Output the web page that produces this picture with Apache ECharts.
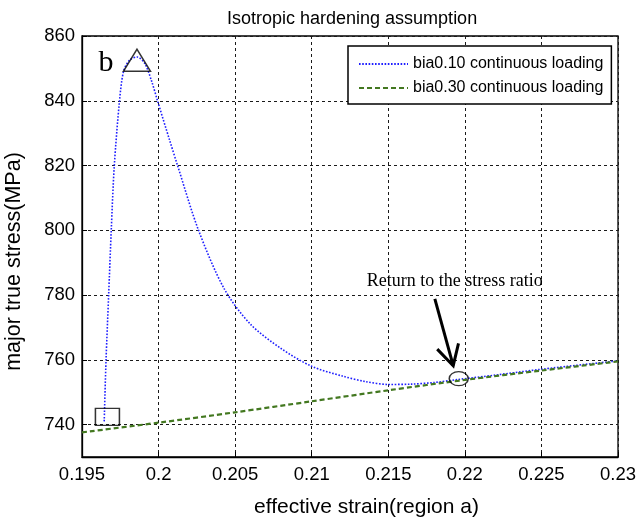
<!DOCTYPE html>
<html><head><meta charset="utf-8">
<script src="https://cdn.jsdelivr.net/npm/echarts@6/dist/echarts.min.js"></script>
<style>html,body{margin:0;padding:0;background:#fff}#c{width:639px;height:521px}</style>
</head><body><div id="c"></div>
<script>
// ticks
const xTicks = [0.195, 0.2, 0.205, 0.21, 0.215, 0.22, 0.225, 0.23];
const yTicks = [740, 760, 780, 800, 820, 840, 860];
// bia0.10 continuous loading
const b10Strain = [0.19645, 0.19657, 0.19674, 0.19691, 0.19711, 0.19745, 0.19771, 0.1981, 0.1986, 0.1991, 0.19955, 0.19993, 0.20071, 0.20124, 0.20261, 0.20428, 0.206, 0.208, 0.210, 0.212, 0.2135, 0.215, 0.2165, 0.218, 0.2195, 0.222, 0.225, 0.23];
const b10Stress = [741, 760, 780, 800, 820, 840, 849, 852.5, 853.5, 851.5, 846, 840, 828, 820, 800, 782, 771, 763.5, 758, 755, 753.3, 752.4, 752.5, 753, 753.9, 755.3, 757.1, 759.7];
// bia0.30 continuous loading
const b30Strain = [0.195, 0.2, 0.205, 0.21, 0.215, 0.22, 0.225, 0.23];
const b30Stress = [737.6, 740.6, 743.8, 747.2, 750.6, 753.8, 756.7, 759.5];
// markers: [strain, stress]
const peakMark = [0.19859, 852.5];
const startMark = [0.19666, 742.4];
const returnMark = [0.2196, 754.2];
// arrow [fromStrain, fromStress, toStrain, toStress]
const arrowPts = [0.21804, 778.8, 0.21924, 758.2];
// text annotations [strain, stress, text]
const bLabel = [0.19657, 851.7, 'b'];
const noteLabel = [0.21359, 784.4, 'Return to the stress ratio'];

const SANS = '"Liberation Sans", Arial, sans-serif';
const SERIF = '"Liberation Serif", "Times New Roman", serif';
const zip = (a, b) => a.map((v, i) => [v, b[i]]);

const chart = echarts.init(document.getElementById('c'), null, {renderer: 'canvas'});
const gridLine = {show: true, lineStyle: {color: '#1a1a1a', width: 1, type: [3, 3]}};
const option = {
  animation: false,
  backgroundColor: '#fff',
  title: {
    text: 'Isotropic hardening assumption', left: 222, top: 5,
    textStyle: {fontFamily: SANS, fontSize: 18, fontWeight: 'normal', color: '#000'}
  },
  grid: {left: 82, top: 36, right: 21, bottom: 64, containLabel: false, outerBoundsMode: 'none',
    show: true, borderColor: '#000', borderWidth: 1.3, backgroundColor: 'transparent'},
  legend: {
    orient: 'vertical', left: 348, top: 46,
    padding: [10, 8, 8, 10], itemGap: 8, itemWidth: 49, itemHeight: 14,
    borderColor: '#000', borderWidth: 1.5, backgroundColor: '#fff',
    itemStyle: {opacity: 0},
    textStyle: {fontFamily: SANS, fontSize: 16, color: '#000', padding: [0, 0, 0, 0], lineHeight: 16},
    data: ['bia0.10 continuous loading', 'bia0.30 continuous loading']
  },
  xAxis: {
    type: 'value', min: xTicks[0], max: xTicks[xTicks.length - 1], interval: 0.005,
    name: 'effective strain(region a)', nameLocation: 'middle', nameGap: 40,
    nameTextStyle: {fontFamily: SANS, fontSize: 21, color: '#000', padding: [0, 0, 0, 33]},
    axisLine: {show: true, onZero: false, lineStyle: {color: '#000', width: 1.3}},
    axisTick: {show: true, inside: true, length: 5, lineStyle: {color: '#000'}},
    axisLabel: {fontFamily: SANS, fontSize: 18.5, color: '#000', margin: 8,
      formatter: v => { const t = xTicks.find(x => Math.abs(x - v) < 1e-9); return t === undefined ? '' : String(t); }},
    splitLine: gridLine
  },
  yAxis: {
    type: 'value', min: 730, max: 860, splitNumber: 6, minInterval: 20, maxInterval: 20,
    name: 'major true stress(MPa)', nameLocation: 'middle', nameGap: 57,
    nameTextStyle: {fontFamily: SANS, fontSize: 21.5, color: '#000', padding: [0, 30, 0, 0]},
    axisLine: {show: true, onZero: false, lineStyle: {color: '#000', width: 1.3}},
    axisTick: {show: true, inside: true, length: 5, lineStyle: {color: '#000'}},
    axisLabel: {fontFamily: SANS, fontSize: 18.5, color: '#000', margin: 7,
      formatter: v => yTicks.includes(Math.round(v)) ? String(Math.round(v)) : ''},
    splitLine: gridLine
  },
  series: [
    {
      name: 'bia0.10 continuous loading', type: 'line', data: zip(b10Strain, b10Stress),
      showSymbol: false, symbol: 'none', smooth: 0.3, z: 3,
      lineStyle: {color: '#1f1fff', width: 1.6, type: [1.6, 1.6]}, itemStyle: {color: '#1f1fff'}
    },
    {
      name: 'bia0.30 continuous loading', type: 'line', data: zip(b30Strain, b30Stress),
      showSymbol: false, symbol: 'none', smooth: 0.3, z: 4,
      lineStyle: {color: '#437820', width: 2.2, type: [5, 3]}, itemStyle: {color: '#437820'}
    },
    {
      type: 'scatter', symbol: 'triangle', symbolSize: [27, 22], data: [peakMark], z: 5,
      itemStyle: {color: 'rgba(0,0,0,0)', borderColor: '#000', borderWidth: 1.5}, silent: true
    },
    {
      type: 'scatter', symbol: 'rect', symbolSize: [24, 17], data: [startMark], z: 5,
      itemStyle: {color: 'rgba(0,0,0,0)', borderColor: '#000', borderWidth: 1.3}, silent: true
    },
    {
      type: 'scatter', symbol: 'circle', symbolSize: [19, 14], data: [returnMark], z: 5,
      itemStyle: {color: 'rgba(0,0,0,0)', borderColor: '#000', borderWidth: 1.3}, silent: true
    },
    {
      type: 'custom', data: [arrowPts], z: 6, silent: true, clip: false,
      renderItem: (params, api) => {
        const p1 = api.coord([api.value(0), api.value(1)]);
        const p2 = api.coord([api.value(2), api.value(3)]);
        const ang = Math.atan2(p2[1] - p1[1], p2[0] - p1[0]);
        const L = 23, a = 0.5;
        const h1 = [p2[0] - L * Math.cos(ang - a), p2[1] - L * Math.sin(ang - a)];
        const h2 = [p2[0] - L * Math.cos(ang + a), p2[1] - L * Math.sin(ang + a)];
        return {type: 'group', children: [
          {type: 'line', shape: {x1: p1[0], y1: p1[1], x2: p2[0], y2: p2[1]}, style: {stroke: '#000', lineWidth: 3}},
          {type: 'polyline', shape: {points: [h1, p2, h2]}, style: {stroke: '#000', lineWidth: 3, fill: null}}
        ]};
      }
    },
    {
      type: 'custom', data: [bLabel, noteLabel], z: 6, silent: true, clip: false,
      dimensions: ['x', 'y', 't'],
      renderItem: (params, api) => {
        const item = params.dataIndex === 0 ? bLabel : noteLabel;
        const p = api.coord([item[0], item[1]]);
        const isB = params.dataIndex === 0;
        return {type: 'text', x: p[0], y: p[1], style: {
          text: item[2], fill: '#000', fontFamily: SERIF,
          fontSize: isB ? 30 : 18, align: isB ? 'center' : 'left', verticalAlign: 'middle'
        }};
      }
    }
  ]
};
chart.setOption(option);
</script>
</body></html>
